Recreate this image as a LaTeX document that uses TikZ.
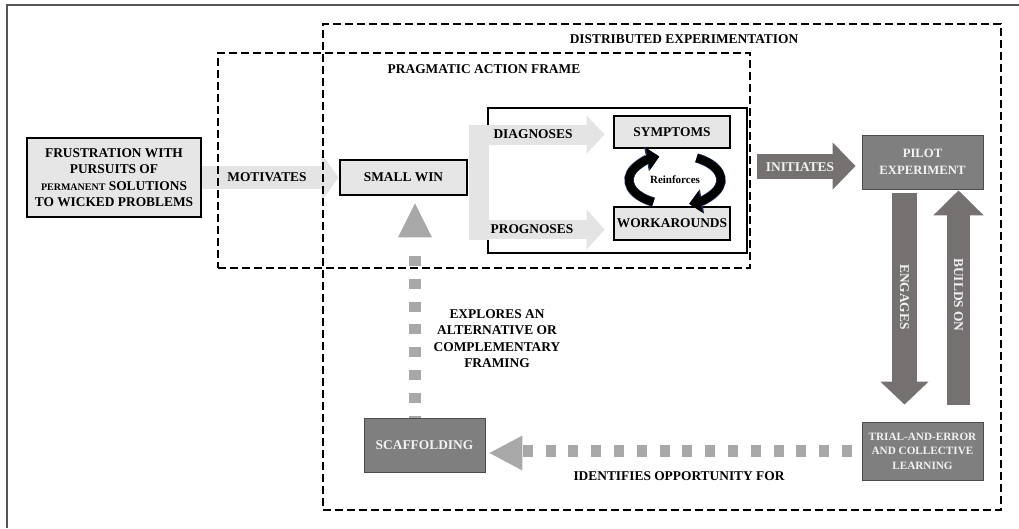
\documentclass[tikz,border=0pt]{standalone}
\usepackage{fontspec}
\setmainfont{Liberation Serif}
\usetikzlibrary{arrows.meta,calc}
\definecolor{lightbox}{HTML}{E6E6E6}
\definecolor{lightarrow}{HTML}{E4E4E4}
\definecolor{darkbox}{HTML}{7F7F7F}
\definecolor{darkarrow}{HTML}{767171}
\definecolor{dotgray}{HTML}{A8A8A8}
\definecolor{lighttext}{HTML}{F2F2F2}
\definecolor{framegray}{HTML}{555555}
\definecolor{navyline}{HTML}{1F2F5F}
\begin{document}
\begin{tikzpicture}[x=1pt,y=-1pt,
  font=\fontsize{13.4}{16.4}\selectfont\bfseries,
  lightnode/.style={draw=black, line width=2.6pt, fill=lightbox, align=center, inner sep=0pt},
  darknode/.style={draw=black!70, line width=0.9pt, fill=darkbox, text=lighttext, align=center, inner sep=0pt},
  framebox/.style={draw=black, line width=2.3pt, dash pattern=on 8pt off 4pt, inner sep=0pt},
  lbl/.style={align=center, inner sep=0pt},
  wlbl/.style={align=center, inner sep=0pt, text=lighttext},
  dotline/.style={draw=dotgray, line width=11.5pt, dash pattern=on 10pt off 12.8pt},
  loopout/.style={navyline, line width=9.4pt, -{Triangle[length=13pt,width=24pt]}},
  loopin/.style={black, line width=8pt, -{Triangle[length=11.5pt,width=21.5pt]}},
]
\useasboundingbox (0,0) rectangle (1019,528);
\draw[framegray, line width=2pt] (7,528) -- (7,5) -- (1019,5);

% boxes
\node[lightnode, minimum width=174pt, minimum height=79pt] (frus) at (114,177.5)
  {FRUSTRATION WITH\\PURSUITS OF\\{\fontsize{10}{12}\selectfont PERMANENT} SOLUTIONS\\TO WICKED PROBLEMS};
\node[lightnode, minimum width=127pt, minimum height=35pt] (win) at (403.5,177.5) {SMALL WIN};
\node[draw=black, line width=2.2pt, minimum width=259pt, minimum height=145pt, inner sep=0pt] (inner) at (617.5,180.5) {};
\node[lightnode, minimum width=116pt, minimum height=32pt] (symp) at (672,132) {SYMPTOMS};
\node[lightnode, minimum width=116pt, minimum height=33pt] (work) at (672,223.5) {WORKAROUNDS};
\node[darknode, minimum width=121pt, minimum height=54pt, font=\fontsize{12.7}{17}\selectfont\bfseries] (pilot) at (922.5,162) {PILOT\\EXPERIMENT};
\node[darknode, minimum width=121pt, minimum height=58pt, font=\fontsize{11.2}{14.5}\selectfont\bfseries] (trial) at (922.5,451) {TRIAL-AND-ERROR\\AND COLLECTIVE\\LEARNING};
\node[darknode, minimum width=121pt, minimum height=54pt] (scaf) at (424.5,445) {SCAFFOLDING};

% motivates
\draw[lightarrow, line width=23pt, -{Triangle[length=17pt,width=46pt]}] (frus.east) -- (win.west);
\node[lbl] (motlbl) at (267,177) {MOTIVATES};

% diagnoses / prognoses
\coordinate (bartop) at ($(win.east)+(11,-52.5)$);
\coordinate (barbot) at ($(win.east)+(11,62)$);
\draw[lightarrow, line width=20pt] (bartop) -- (barbot);
\draw[lightarrow, line width=20pt, -{Triangle[length=18pt,width=37pt]}, shorten >=8pt]
  ($(win.east)+(1,-43)$) -- ($(symp.west)+(0,2.5)$);
\draw[lightarrow, line width=19.5pt, -{Triangle[length=18pt,width=39pt]}, shorten >=8pt]
  ($(win.east)+(1,52)$) -- ($(work.west)+(0,6)$);
\node[lbl] (diaglbl) at (533,134) {DIAGNOSES};
\node[lbl] (proglbl) at (532,229) {PROGNOSES};

% reinforces loop
\coordinate (rc) at (675,180);
\draw[loopout] ($(rc)+(118:46 and 25)$) arc[start angle=118, end angle=250, x radius=46, y radius=25];
\draw[loopin]  ($(rc)+(118:46 and 25)$) arc[start angle=118, end angle=250, x radius=46, y radius=25];
\draw[loopout] ($(rc)+(-62:46 and 25)$) arc[start angle=-62, end angle=72, x radius=46, y radius=25];
\draw[loopin]  ($(rc)+(-62:46 and 25)$) arc[start angle=-62, end angle=72, x radius=46, y radius=25];
\node[lbl, font=\fontsize{11}{13}\selectfont\bfseries] (reinf) at (rc) {Reinforces};

% initiates
\coordinate (initstart) at ($(inner.east)+(8.5,-14.5)$);
\draw[darkarrow, line width=25pt, -{Triangle[length=23pt,width=46pt]}, shorten >=6pt]
  (initstart) -- (initstart -| pilot.west);
\node[wlbl] (initlbl) at (800,167) {INITIATES};

% engages / builds on
\draw[darkarrow, line width=25pt, -{Triangle[length=23pt,width=47pt]}, shorten <=4pt, shorten >=17pt]
  ($(pilot.south)+(-18,0)$) -- ($(trial.north)+(-18,0)$);
\draw[darkarrow, line width=23pt, -{Triangle[length=25pt,width=49pt]}, shorten <=17pt, shorten >=1pt]
  ($(trial.north)+(36,0)$) -- ($(pilot.south)+(36,0)$);
\node[wlbl, rotate=-90] (englbl) at (904.5,297) {ENGAGES};
\node[wlbl, rotate=-90] (buildlbl) at (958.5,295) {BUILDS ON};

% identifies opportunity for (dotted)
\coordinate (hdtip) at ($(scaf.east)+(4,8)$);
\draw[dotline, dash phase=13.2pt] ($(trial.west)+(0,0)$) -- ($(hdtip)+(34,-2)$);
\fill[dotgray] (hdtip) -- ++(33,-17.5) -- ++(0,35) -- cycle;
\node[lbl] (idlbl) at (679,476) {IDENTIFIES OPPORTUNITY FOR};

% explores (dotted)
\coordinate (vtip) at ($(win.south)+(11.5,7)$);
\draw[dotline, line width=12pt, dash phase=8pt] ($(scaf.north)+(-9.5,0)$) -- ($(vtip)+(0,40)$);
\fill[dotgray] (vtip) -- ++(-17,34) -- ++(34,0) -- cycle;
\node[lbl] (explbl) at (497,338.5) {EXPLORES AN\\ALTERNATIVE OR\\COMPLEMENTARY\\FRAMING};

% dashed frames
\node[framebox, minimum width=678pt, minimum height=486pt] (dist) at (662,267) {};
\node[framebox, minimum width=532pt, minimum height=215pt] (prag) at (484,160.5) {};
\node[lbl] (distlbl) at (684,39) {DISTRIBUTED EXPERIMENTATION};
\node[lbl] (praglbl) at (484,69) {PRAGMATIC ACTION FRAME};
\end{tikzpicture}
\end{document}
